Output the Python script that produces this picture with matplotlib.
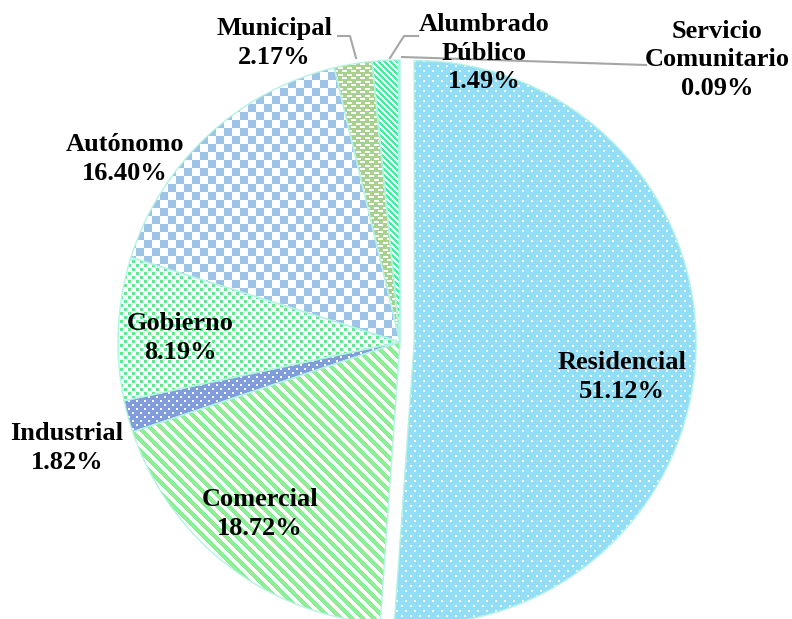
import numpy as np
import matplotlib
matplotlib.use('Agg')
import matplotlib.pyplot as plt
from matplotlib.lines import Line2D

categories = ['Residencial', 'Comercial', 'Industrial', 'Gobierno', 'Autónomo',
              'Municipal', 'Alumbrado\nPúblico', 'Servicio\nComunitario']
shares = [51.12, 18.72, 1.82, 8.19, 16.40, 2.17, 1.49, 0.09]

W, H = 792, 619
fig = plt.figure(figsize=(W / 100, H / 100), dpi=100)
ax = fig.add_axes([0, 0, 1, 1])

cx_px, cy_px, r_px = 400, 342, 282
xlim = (-cx_px / r_px, (W - cx_px) / r_px)
ylim = (-(H - cy_px) / r_px, cy_px / r_px)

wedges, _ = ax.pie(shares, startangle=90, counterclock=False,
                   explode=[0.05] + [0] * 7, radius=1, center=(0, 0),
                   wedgeprops=dict(linewidth=1.0, edgecolor='#b4f3e4', facecolor='none'))
ax.set_xlim(xlim)
ax.set_ylim(ylim)
ax.set_aspect('equal')
ax.axis('off')

ii, jj = np.mgrid[0:H, 0:W]


def c(h):
    h = h.lstrip('#')
    return np.array([int(h[k:k + 2], 16) / 255 for k in (0, 2, 4)])


def base(col):
    img = np.ones((H, W, 3))
    img[:] = c(col)
    return img


def dots(bg, fg, px=9, py=10, s=2):
    img = base(bg)
    m = (((ii % py) < s) & ((jj % px) < s)) | \
        ((((ii + py // 2) % py) < s) & (((jj + px // 2) % px) < s))
    img[m] = c(fg)
    return img


def stripes(bg, fg, period, width):
    img = base(bg)
    m = ((ii - jj) % period) < width
    img[m] = c(fg)
    return img


def checker(bg, fg, size):
    img = base(bg)
    m = ((ii // size + jj // size) % 2) == 0
    img[m] = c(fg)
    return img


def squares(bg, fg):
    img = base(bg)
    m = (((ii % 8) < 3) & ((jj % 8) < 3)) | ((((ii + 4) % 8) < 3) & (((jj + 4) % 8) < 3))
    img[m] = c(fg)
    return img


def dashes(bg, fg):
    img = base(bg)
    m = (((ii % 7) < 2) & ((jj % 9) < 5)) | ((((ii + 3) % 7) < 2) & (((jj + 4) % 9) < 5))
    img[m] = c(fg)
    return img


patterns = [
    dots('#93def7', '#ffffff'),
    stripes('#ffffff', '#8cef95', 11, 6),
    dots('#7f9ddd', '#ffffff', 8, 8),
    squares('#ffffff', '#5eeb8e'),
    checker('#ffffff', '#9dc3e6', 8),
    dashes('#a9d18e', '#ffffff'),
    stripes('#ffffff', '#44ef9c', 6, 3),
    base('#ffc000'),
]

for w, img in zip(wedges, patterns):
    im = ax.imshow(img, extent=(xlim[0], xlim[1], ylim[0], ylim[1]), origin='upper',
                   interpolation='nearest', zorder=1)
    im.set_clip_path(w)
    w.set_zorder(2)

ax.set_xlim(xlim)
ax.set_ylim(ylim)

labels = [f"{cat}\n{v:.2f}%" for cat, v in zip(categories, shares)]
label_px = [(622, 377), (260, 514), (67, 448), (180, 338), (125, 159),
            (274, 43), (484, 53), (717, 60)]

for lab, (x, y) in zip(labels, label_px):
    fig.text(x / W, 1 - y / H, lab, ha='center', va='center', fontsize=19,
             fontweight='bold', family='Liberation Serif', linespacing=1.3, color='black')

leaders = [[(338, 36), (350, 36), (356, 58)],
           [(418, 36), (404, 36), (390, 58)],
           [(646, 65), (402, 57)]]
for pts in leaders:
    xs = [p[0] / W for p in pts]
    ys = [1 - p[1] / H for p in pts]
    fig.add_artist(Line2D(xs, ys, transform=fig.transFigure, color='#a6a6a6', lw=1.5, zorder=3))

fig.savefig('out.png', dpi=100)
